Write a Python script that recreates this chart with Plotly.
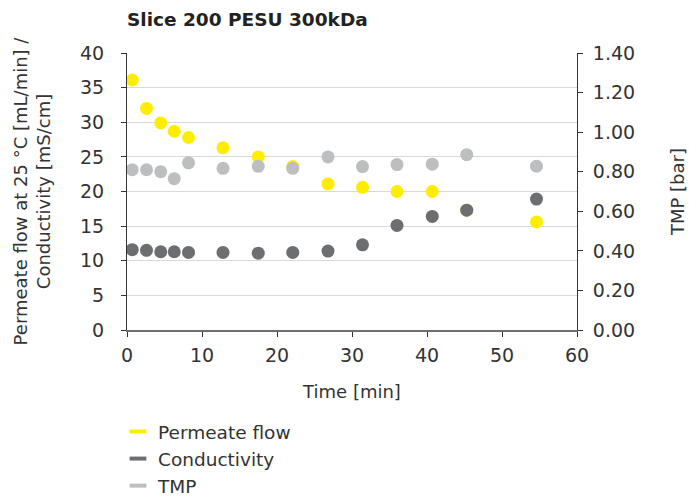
import plotly.graph_objects as go

# Data
time_min = [0.7, 2.6, 4.5, 6.3, 8.2, 12.8, 17.5, 22.1, 26.8, 31.4, 36.0, 40.7, 45.3, 54.6]
permeate_flow = [36.1, 32.0, 29.9, 28.7, 27.8, 26.3, 25.0, 23.6, 21.1, 20.6, 20.0, 20.0, 17.3, 15.6]
conductivity = [11.6, 11.5, 11.3, 11.3, 11.2, 11.2, 11.1, 11.2, 11.4, 12.3, 15.1, 16.4, 17.3, 18.9]
tmp_bar = [0.81, 0.81, 0.80, 0.765, 0.845, 0.817, 0.827, 0.817, 0.875, 0.826, 0.836, 0.838, 0.886, 0.828]

series_names = ["Permeate flow", "Conductivity", "TMP"]
colors = ["#FFED00", "#6D6E71", "#BDBEC0"]

FONT = "DejaVu Sans"
TXT = "#333333"
fig = go.Figure()

fig.add_trace(go.Scatter(x=time_min, y=permeate_flow, mode="markers",
                         marker=dict(color=colors[0], size=13), showlegend=False, yaxis="y"))
fig.add_trace(go.Scatter(x=time_min, y=conductivity, mode="markers",
                         marker=dict(color=colors[1], size=13), showlegend=False, yaxis="y"))
fig.add_trace(go.Scatter(x=time_min, y=tmp_bar, mode="markers",
                         marker=dict(color=colors[2], size=13), showlegend=False, yaxis="y2"))
for name, c in zip(series_names, colors):
    fig.add_trace(go.Scatter(x=[None], y=[None], mode="markers", name=name,
                             marker=dict(symbol="line-ew-open", size=12, color=c,
                                         line=dict(color=c, width=4))))

fig.update_layout(
    width=689, height=497,
    margin=dict(l=127, r=112, t=53, b=167, autoexpand=False),
    paper_bgcolor="white", plot_bgcolor="white",
    font=dict(family=FONT, size=19, color=TXT),
    title=dict(text="Slice 200 PESU 300kDa", x=127/689, xanchor="left", xref="container",
               y=1-20/497, yanchor="middle", yref="container",
               font=dict(family=FONT, size=18.5, color="#222222", weight=600)),
    xaxis=dict(range=[0, 60], dtick=10, tick0=0, showgrid=False, zeroline=False,
               showline=True, linecolor="#6D6E71", linewidth=2, automargin=False,
               ticks="outside", ticklen=5, tickcolor=TXT, ticklabelstandoff=2,
               tickfont=dict(size=19),
               title=dict(text="Time [min]", standoff=21, font=dict(size=18))),
    yaxis=dict(range=[0, 40], dtick=5, tick0=0, showgrid=True, gridcolor="#D9D9D9", gridwidth=1,
               zeroline=False, showline=True, linecolor=TXT, linewidth=1, automargin=False,
               ticks="outside", ticklen=5, tickcolor=TXT, ticklabelstandoff=13,
               tickfont=dict(size=19),
               title=dict(text="Permeate flow at 25 °C [mL/min] /<br>Conductivity [mS/cm]",
                          standoff=24, font=dict(size=18))),
    yaxis2=dict(range=[0, 1.4], dtick=0.2, tick0=0, tickformat=".2f", overlaying="y", side="right",
                showgrid=False, zeroline=False, showline=True, linecolor=TXT, linewidth=1,
                automargin=False,
                ticks="outside", ticklen=5, tickcolor=TXT, ticklabelstandoff=6,
                tickfont=dict(size=19),
                title=dict(text="TMP [bar]", standoff=37, font=dict(size=18))),
    legend=dict(x=-0.02, xanchor="left", y=1-413/497, yref="container", yanchor="top",
                orientation="v", font=dict(size=18.5), tracegroupgap=0),
)

fig.write_html("out.html")
